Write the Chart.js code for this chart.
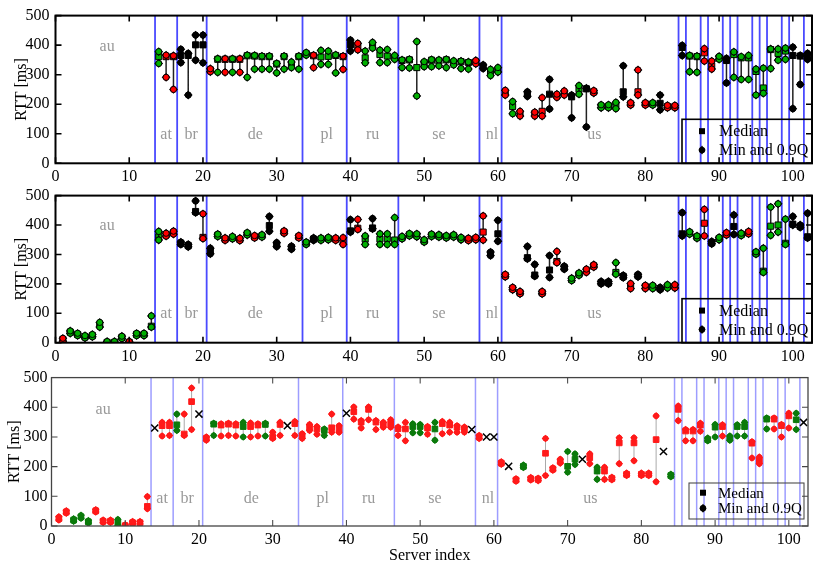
<!DOCTYPE html>
<html>
<head>
<meta charset="utf-8">
<script src="https://cdn.jsdelivr.net/npm/chart.js@4.4.0/dist/chart.umd.min.js"></script>
<style>
  body { margin: 0; background: #fff; width: 814px; height: 565px; position: relative; overflow: hidden; }
  canvas { position: absolute; left: 0; }
</style>
</head>
<body>
<canvas id="c1" style="top:0px"></canvas>
<canvas id="c2" style="top:180px"></canvas>
<canvas id="c3" style="top:364px"></canvas>
<script>
// region names and where the labels sit (server index)
const regionNames = ['au', 'at', 'br', 'de', 'pl', 'ru', 'se', 'nl', 'us'];
const regionX = [7, 15, 18.4, 27.1, 36.8, 43, 52, 59.2, 73.1];
// blue separators between countries
const regionBounds = [13.5, 16.5, 20.5, 33.5, 39.5, 46.5, 57.5, 60.5, 84.5, 85.5, 87.5, 88.5,
  90.5, 91.5, 92.5, 94.5, 95.5, 96.5, 98.5, 99.5, 101.5];
const xTicks = [0, 10, 20, 30, 40, 50, 60, 70, 80, 90, 100];
const yTicks = [0, 100, 200, 300, 400, 500];

// panel 1 (servers 1..102): min, median, 0.9 quantile, colour (r/g/k, - = none)
const p1Lo = [
  null, null, null, null, null, null, null, null, null, null,
  null, null, null, 338, 291, 250, 341, 231, 349, 340,
  310, 308, 308, 308, 308, 291, 319, 319, 319, 306,
  319, 324, 319, 366, 324, 335, 335, 306, 318, 380,
  384, 340, 390, 341, 341, 352, 324, 323, 228, 327,
  327, 330, 324, 333, 321, 319, 337, 321, 297, 309,
  231, 168, 160, 227, 160, 160, 184, 223, 231, 154,
  234, 123, 238, 188, 188, 185, 225, 197, 231, 197,
  197, 181, 188, 188, 365, 310, 308, 346, 319, 352,
  272, 291, 284, 284, 231, 237, 321, 349, 352, 185,
  267, 352];
const p1Med = [
  null, null, null, null, null, null, null, null, null, null,
  null, null, null, 361, 361, 361, 365, 365, 401, 401,
  316, 352, 352, 352, 352, 364, 363, 361, 361, 336,
  361, 335, 361, 371, 364, 360, 362, 365, 361, 401,
  394, 357, 399, 368, 363, 358, 348, 350, 324, 339,
  349, 346, 350, 340, 344, 341, 343, 327, 306, 316,
  238, 192, 168, 234, 168, 176, 234, 229, 238, 225,
  250, 252, 242, 193, 193, 198, 242, 201, 242, 201,
  201, 203, 192, 192, 392, 363, 361, 374, 330, 357,
  348, 368, 357, 357, 311, 255, 385, 372, 380, 365,
  363, 357];
const p1Hi = [
  null, null, null, null, null, null, null, null, null, null,
  null, null, null, 378, 366, 364, 386, 372, 434, 434,
  320, 354, 354, 354, 354, 366, 365, 363, 363, 338,
  363, 343, 363, 375, 366, 382, 380, 367, 363, 417,
  406, 380, 409, 383, 385, 365, 350, 352, 412, 344,
  351, 350, 352, 347, 346, 343, 348, 333, 318, 324,
  247, 209, 176, 242, 173, 222, 284, 234, 245, 231,
  263, 254, 246, 198, 198, 206, 330, 205, 316, 205,
  205, 231, 196, 196, 399, 365, 363, 388, 346, 362,
  355, 377, 361, 365, 319, 322, 387, 387, 390, 393,
  365, 372];
const p1Col = [
  '-', '-', '-', '-', '-', '-', '-', '-', '-', '-',
  '-', '-', '-', 'g', 'r', 'r', 'k', 'k', 'k', 'k',
  'r', 'g', 'r', 'g', 'r', 'g', 'g', 'g', 'g', 'g',
  'g', 'g', 'g', 'g', 'r', 'g', 'g', 'g', 'r', 'k',
  'r', 'g', 'g', 'g', 'g', 'g', 'g', 'g', 'g', 'g',
  'g', 'g', 'g', 'g', 'g', 'g', 'r', 'k', 'g', 'g',
  'r', 'g', 'r', 'k', 'r', 'r', 'k', 'r', 'r', 'k',
  'g', 'k', 'r', 'g', 'g', 'g', 'k', 'r', 'r', 'r',
  'g', 'k', 'r', 'r', 'k', 'g', 'g', 'r', 'r', 'g',
  'k', 'g', 'g', 'g', 'g', 'g', 'g', 'g', 'g', 'k',
  'k', 'k'];

// panel 2
const p2Lo = [
  5, 32, 24, 16, 20, 53, 0, 0, 14, 0,
  24, 24, 53, 349, 362, 369, 334, 326, 442, 354,
  302, 361, 348, 353, 347, 366, 356, 359, 379, 327,
  372, 318, 356, 334, 348, 348, 350, 348, 334, 376,
  385, 334, 387, 334, 334, 334, 353, 363, 360, 342,
  361, 359, 356, 359, 350, 347, 350, 349, 296, 345,
  224, 180, 166, 285, 226, 166, 222, 272, 250, 211,
  229, 239, 257, 200, 200, 233, 221, 184, 224, 184,
  184, 180, 186, 186, 363, 369, 355, 363, 336, 350,
  366, 368, 364, 370, 301, 239, 365, 376, 334, 400,
  392, 356];
const p2Med = [
  11, 36, 28, 20, 24, 60, 1, 1, 18, 1,
  28, 28, 56, 360, 367, 374, 338, 330, 446, 358,
  312, 365, 352, 357, 351, 370, 360, 363, 398, 333,
  376, 323, 360, 338, 352, 352, 354, 352, 345, 380,
  389, 352, 390, 352, 354, 349, 357, 367, 365, 346,
  365, 363, 360, 363, 354, 351, 354, 376, 302, 370,
  228, 184, 170, 289, 230, 170, 247, 276, 255, 215,
  233, 245, 261, 204, 204, 239, 225, 190, 228, 190,
  190, 184, 192, 192, 370, 373, 359, 406, 340, 354,
  370, 395, 368, 374, 305, 243, 396, 400, 338, 403,
  396, 360];
const p2Hi = [
  15, 40, 32, 24, 28, 69, 4, 4, 22, 4,
  32, 32, 91, 378, 372, 379, 342, 334, 482, 438,
  321, 369, 356, 361, 355, 374, 364, 367, 429, 340,
  380, 328, 364, 342, 356, 356, 358, 356, 357, 418,
  419, 363, 422, 370, 370, 425, 361, 371, 370, 350,
  369, 367, 364, 367, 358, 355, 358, 431, 308, 416,
  232, 188, 174, 327, 266, 174, 296, 310, 260, 219,
  237, 250, 265, 208, 208, 272, 229, 201, 232, 195,
  195, 188, 197, 197, 442, 377, 363, 453, 344, 358,
  374, 434, 372, 378, 309, 321, 461, 472, 420, 429,
  400, 440];
const p2Col = [
  'r', 'g', 'g', 'g', 'g', 'g', 'g', 'g', 'g', 'r',
  'g', 'g', 'g', 'g', 'r', 'r', 'k', 'k', 'k', 'r',
  'k', 'g', 'r', 'g', 'r', 'g', 'r', 'g', 'k', 'k',
  'r', 'k', 'r', 'g', 'k', 'g', 'g', 'r', 'r', 'k',
  'r', 'g', 'k', 'g', 'g', 'g', 'g', 'g', 'g', 'g',
  'g', 'g', 'g', 'g', 'g', 'r', 'r', 'r', 'k', 'k',
  'r', 'r', 'r', 'k', 'k', 'r', 'k', 'r', 'k', 'g',
  'g', 'r', 'r', 'k', 'k', 'g', 'k', 'r', 'k', 'r',
  'g', 'k', 'g', 'r', 'k', 'g', 'g', 'r', 'k', 'g',
  'r', 'k', 'g', 'r', 'g', 'g', 'g', 'g', 'g', 'k',
  'k', 'k'];

// panel 3 (x = cross marker, its position is in p3Med)
const p3Lo = [
  20, 43, 16, 26, 10, 47, 12, 12, 1, 0,
  7, 7, 58, null, 303, 305, 322, 305, 325, null,
  289, 305, 303, 305, 303, 300, 300, 303, 303, 295,
  305, null, 305, 295, 322, 309, 305, 316, 316, null,
  360, 330, 358, 325, 333, 333, 305, 287, 314, 314,
  309, 289, 311, 316, 316, 316, null, 295, null, null,
  208, null, 151, 197, 155, 153, 170, 188, 212, 181,
  207, null, 210, 157, 157, 156, 210, 170, 220, 170,
  170, 149, null, 166, 355, 287, 287, 319, 287, 300,
  303, 289, 303, 303, 229, 210, 327, 327, 300, 330,
  325, null];
const p3Med = [
  25, 47, 20, 31, 14, 51, 16, 16, 12, 1,
  11, 11, 66, 330, 338, 338, 341, 310, 419, 377,
  295, 343, 340, 343, 340, 335, 335, 340, 342, 300,
  342, 338, 345, 303, 333, 327, 322, 331, 327, 380,
  385, 350, 393, 350, 342, 345, 328, 327, 335, 335,
  330, 327, 345, 340, 333, 328, 325, 300, 300, 300,
  212, 201, 155, 201, 159, 157, 245, 192, 218, 201,
  225, 225, 230, 185, 185, 160, 280, 174, 280, 174,
  174, 291, 251, 170, 393, 320, 320, 340, 291, 333,
  335, 296, 335, 335, 279, 220, 360, 360, 338, 371,
  358, 349];
const p3Hi = [
  31, 51, 24, 36, 18, 55, 20, 20, 22, 4,
  15, 15, 99, null, 349, 349, 377, 377, 465, null,
  300, 346, 344, 346, 344, 349, 347, 344, 346, 316,
  349, null, 352, 311, 342, 335, 327, 377, 338, null,
  401, 355, 401, 355, 349, 358, 333, 349, 344, 342,
  335, 349, 352, 349, 338, 333, null, 305, null, null,
  216, null, 159, 205, 163, 161, 295, 196, 225, 251,
  243, null, 243, 198, 198, 164, 297, 178, 297, 178,
  178, 371, null, 174, 404, 325, 325, 346, 296, 342,
  341, 303, 341, 349, 284, 232, 364, 364, 342, 380,
  380, null];
const p3Col = [
  'r', 'r', 'g', 'g', 'g', 'r', 'r', 'r', 'g', 'r',
  'r', 'r', 'r', 'x', 'r', 'r', 'g', 'r', 'r', 'x',
  'r', 'g', 'r', 'r', 'r', 'g', 'r', 'r', 'g', 'r',
  'r', 'x', 'r', 'r', 'r', 'r', 'g', 'r', 'r', 'x',
  'r', 'r', 'r', 'r', 'r', 'r', 'r', 'r', 'g', 'g',
  'r', 'g', 'r', 'r', 'r', 'r', 'x', 'r', 'x', 'x',
  'r', 'x', 'r', 'g', 'r', 'r', 'r', 'r', 'r', 'g',
  'g', 'x', 'r', 'g', 'r', 'r', 'r', 'r', 'r', 'r',
  'r', 'r', 'x', 'g', 'r', 'r', 'r', 'r', 'g', 'g',
  'r', 'g', 'g', 'g', 'r', 'r', 'g', 'r', 'r', 'r',
  'g', 'x'];

const serif = 'Liberation Serif';

// frame, inward ticks, country separators, labels and key
function deco(cfg) {
  return {
    id: 'deco_' + cfg.id,
    beforeDatasetsDraw(chart) {
      const { ctx, chartArea: a, scales: { x, y } } = chart;
      ctx.save();
      ctx.strokeStyle = cfg.sepColor;
      ctx.lineWidth = cfg.sepWidth;
      regionBounds.forEach(b => {
        const px = x.getPixelForValue(b);
        ctx.beginPath(); ctx.moveTo(px, a.top); ctx.lineTo(px, a.bottom); ctx.stroke();
      });
      ctx.fillStyle = '#999';
      ctx.font = '16px "' + serif + '"';
      ctx.textAlign = 'center';
      ctx.textBaseline = 'middle';
      regionNames.forEach((n, i) => {
        ctx.fillText(n, x.getPixelForValue(regionX[i]), y.getPixelForValue(i === 0 ? cfg.topY : cfg.lowY));
      });
      ctx.restore();
    },
    afterDraw(chart) {
      const { ctx, chartArea: a, scales: { x, y } } = chart;
      ctx.save();
      ctx.strokeStyle = cfg.frameColor;
      ctx.lineWidth = cfg.frameWidth;
      ctx.strokeRect(a.left, a.top, a.right - a.left, a.bottom - a.top);
      ctx.lineWidth = cfg.frameWidth * 0.8;
      ctx.beginPath();
      xTicks.forEach(v => {
        const px = x.getPixelForValue(v);
        ctx.moveTo(px, a.bottom); ctx.lineTo(px, a.bottom - 6);
        ctx.moveTo(px, a.top); ctx.lineTo(px, a.top + 6);
      });
      yTicks.forEach(v => {
        const py = y.getPixelForValue(v);
        ctx.moveTo(a.left, py); ctx.lineTo(a.left + 6, py);
        ctx.moveTo(a.right, py); ctx.lineTo(a.right - 6, py);
      });
      ctx.stroke();

      // key box
      const k = cfg.key;
      const bx = a.right - k.dx - k.w, by = a.bottom - k.dy - k.h;
      ctx.lineWidth = cfg.frameWidth * 0.8;
      ctx.strokeRect(bx, by, k.w, k.h);
      ctx.fillStyle = '#000';
      const mx = bx + k.mx;
      const y1 = by + k.h * 0.27, y2 = by + k.h * 0.7;
      ctx.fillRect(mx - 3, y1 - 3, 6, 6);
      ctx.beginPath();
      ctx.moveTo(mx, y2 - 4.5); ctx.lineTo(mx + 3.5, y2); ctx.lineTo(mx, y2 + 4.5); ctx.lineTo(mx - 3.5, y2);
      ctx.closePath(); ctx.fill();
      ctx.beginPath(); ctx.arc(mx, y2, 3.2, 0, Math.PI * 2); ctx.fill();
      ctx.font = k.font + 'px "' + serif + '"';
      ctx.textAlign = 'left';
      ctx.textBaseline = 'middle';
      ctx.fillText('Median', bx + k.tx, y1 + 1);
      ctx.fillText('Min and 0.9Q', bx + k.tx, y2 + 1);
      ctx.restore();
    }
  };
}

function makePanel(cfg, lo, med, hi, col) {
  const lines = [], ends = [], endCols = [], under = [], underCols = [], meds = [], medCols = [], crosses = [];
  for (let i = 0; i < med.length; i++) {
    const sx = i + 1;
    if (col[i] === 'x') { crosses.push({ x: sx, y: med[i] }); continue; }
    if (med[i] == null) continue;
    const c = cfg.colors[col[i]];
    lines.push({ x: sx, y: lo[i] }, { x: sx, y: hi[i] }, { x: sx, y: null });
    ends.push({ x: sx, y: lo[i] }, { x: sx, y: hi[i] });
    endCols.push(c, c);
    under.push({ x: sx, y: lo[i] }, { x: sx, y: hi[i] });
    underCols.push(cfg.edge || c, cfg.edge || c);
    meds.push({ x: sx, y: med[i] });
    medCols.push(c);
  }
  const datasets = [
    { label: 'Min and 0.9Q', data: ends, order: 0, pointStyle: 'circle', pointRadius: cfg.dotR,
      backgroundColor: endCols, borderColor: cfg.edge ? cfg.edge : endCols, borderWidth: 1 },
    { label: 'tips', data: under, order: 1, pointStyle: 'rectRot', pointRadius: cfg.tipR,
      backgroundColor: underCols, borderColor: underCols, borderWidth: 0 },
    { label: 'Median', data: meds, order: 2, pointStyle: 'rect', pointRadius: cfg.sqR,
      backgroundColor: medCols, borderColor: cfg.edge ? cfg.edge : medCols, borderWidth: 1 },
    { label: 'range', type: 'line', data: lines, order: 3, showLine: true, spanGaps: false,
      borderColor: cfg.lineColor, borderWidth: cfg.lineWidth, pointRadius: 0 },
    { label: 'none', data: crosses, order: 0, pointStyle: 'crossRot', pointRadius: 5,
      borderColor: '#000', borderWidth: 1.5, backgroundColor: '#000' }
  ];
  const el = document.getElementById(cfg.id);
  el.width = 814; el.height = cfg.h;
  el.style.width = '814px'; el.style.height = cfg.h + 'px';
  return new Chart(el, {
    type: 'scatter',
    data: { datasets },
    options: {
      responsive: false,
      animation: false,
      events: [],
      layout: { autoPadding: false, padding: { top: cfg.top, right: cfg.right, bottom: 0, left: 0 } },
      plugins: { legend: { display: false }, tooltip: { enabled: false } },
      scales: {
        x: {
          type: 'linear', min: 0, max: 102.6,
          grid: { display: false, drawTicks: false }, border: { display: false },
          ticks: { stepSize: 10, includeBounds: false, maxRotation: 0, padding: 4, color: '#000',
                   font: { family: serif, size: 16 } },
          title: { display: !!cfg.xTitle, text: cfg.xTitle || '', color: '#000',
                   font: { family: serif, size: 16 }, padding: { top: 0, bottom: 0 } },
          afterFit: s => { s.height = cfg.xh; }
        },
        y: {
          min: 0, max: 500,
          grid: { display: false, drawTicks: false }, border: { display: false },
          ticks: { stepSize: 100, padding: cfg.yPad, color: '#000', font: { family: serif, size: 16 } },
          title: { display: true, text: 'RTT [ms]', color: '#000', font: { family: serif, size: 16 },
                   padding: { top: cfg.titlePad, bottom: 0 } },
          afterFit: s => { s.width = cfg.yw; }
        }
      }
    },
    plugins: [deco(cfg)]
  });
}

const bright = { r: '#ff0000', g: '#00b000', k: '#000000' };
const dark = { r: '#ff1a1a', g: '#0b7a0b', k: '#000000' };

makePanel({ id: 'c1', h: 184, top: 11.7, right: 2, xh: 20.7, yw: 55.5, yPad: 6, titlePad: 12,
  colors: bright, edge: '#000', dotR: 3.1, tipR: 4.4, sqR: 4.3, lineColor: '#222', lineWidth: 1.5,
  sepColor: '#4a4aff', sepWidth: 1.8, frameColor: '#000', frameWidth: 2,
  topY: 396, lowY: 97, key: { w: 130, h: 44, dx: 0, dy: 0, mx: 20, tx: 37, font: 16 } },
  p1Lo, p1Med, p1Hi, p1Col);

makePanel({ id: 'c2', h: 184, top: 10.7, right: 2, xh: 21.3, yw: 55.5, yPad: 6, titlePad: 12,
  colors: bright, edge: '#000', dotR: 3.1, tipR: 4.4, sqR: 4.3, lineColor: '#222', lineWidth: 1.5,
  sepColor: '#4a4aff', sepWidth: 1.8, frameColor: '#000', frameWidth: 2,
  topY: 396, lowY: 97, key: { w: 130, h: 44, dx: 0, dy: 0, mx: 20, tx: 37, font: 16 } },
  p2Lo, p2Med, p2Hi, p2Col);

makePanel({ id: 'c3', h: 201, top: 10.3, right: 6, xh: 39, yw: 51.5, yPad: 4, titlePad: 5,
  xTitle: 'Server index',
  colors: dark, edge: null, dotR: 2.6, tipR: 3.8, sqR: 4, lineColor: '#aaa', lineWidth: 1,
  sepColor: 'rgba(140,140,255,0.85)', sepWidth: 1.5, frameColor: '#444', frameWidth: 1.3,
  topY: 393, lowY: 93, key: { w: 115, h: 36, dx: 4, dy: 7, mx: 14, tx: 29, font: 15 } },
  p3Lo, p3Med, p3Hi, p3Col);
</script>
</body>
</html>
